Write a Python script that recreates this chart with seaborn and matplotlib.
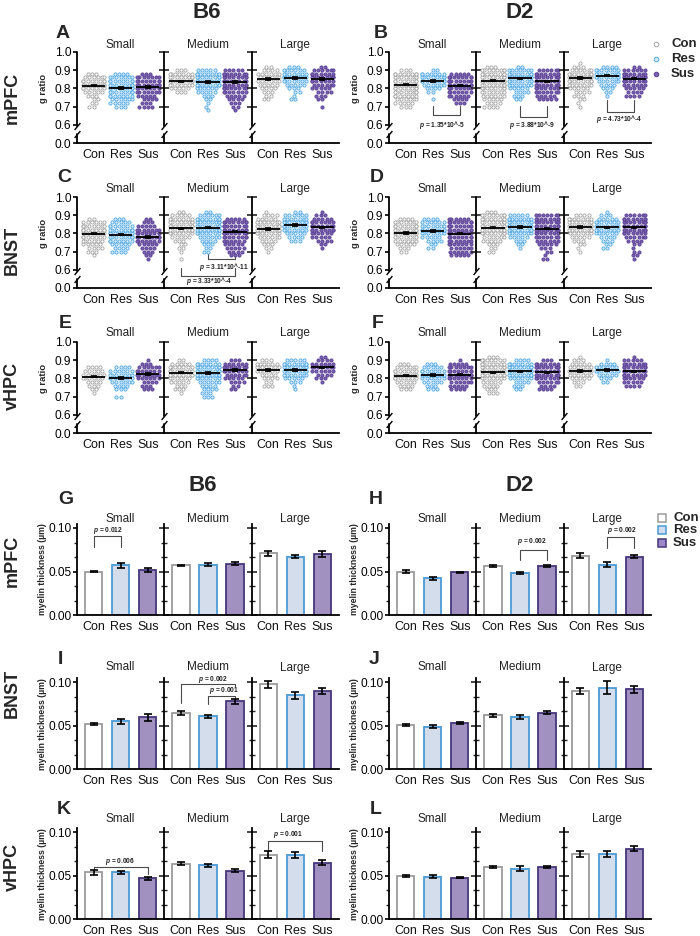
import numpy as np
import seaborn as sns
import matplotlib
matplotlib.use("Agg")
import matplotlib.pyplot as plt  # noqa
from matplotlib.lines import Line2D
from matplotlib.ticker import MultipleLocator
from matplotlib.transforms import blended_transform_factory

GROUPS = ["Con", "Res", "Sus"]
SIZES = ["Small", "Medium", "Large"]
# g ratio bins (0.02 wide), counts per group
BINS = np.round(np.arange(0.66, 0.941, 0.02), 2)

# rows: Small Con/Res/Sus, Medium Con/Res/Sus, Large Con/Res/Sus
b6_mpfc_counts = [
    [0, 0, 2, 2, 2, 3, 5, 7, 8, 8, 6, 3, 0, 0, 0],
    [0, 0, 3, 5, 6, 7, 8, 8, 8, 8, 7, 4, 0, 0, 0],
    [0, 0, 4, 3, 4, 5, 7, 8, 8, 8, 7, 3, 0, 0, 0],
    [0, 0, 0, 0, 0, 0, 3, 5, 7, 8, 8, 7, 3, 0, 0],
    [0, 1, 1, 1, 2, 3, 5, 6, 8, 8, 8, 8, 5, 0, 0],
    [0, 1, 2, 3, 4, 5, 7, 8, 8, 8, 8, 8, 5, 0, 0],
    [0, 0, 0, 0, 2, 2, 3, 4, 5, 6, 6, 6, 4, 2, 0],
    [0, 0, 0, 0, 2, 1, 2, 3, 5, 7, 8, 7, 6, 3, 0],
    [0, 0, 1, 0, 2, 3, 4, 5, 6, 7, 8, 7, 6, 2, 0],
]
d2_mpfc_counts = [
    [0, 0, 3, 5, 6, 7, 8, 8, 8, 8, 8, 8, 3, 0, 0],
    [0, 0, 0, 0, 1, 0, 2, 4, 6, 8, 8, 7, 2, 0, 0],
    [0, 0, 0, 3, 4, 6, 7, 8, 8, 8, 8, 5, 0, 0, 0],
    [0, 0, 4, 4, 5, 6, 7, 8, 8, 8, 8, 8, 8, 3, 0],
    [0, 0, 0, 0, 2, 3, 4, 5, 7, 8, 8, 8, 7, 2, 0],
    [0, 0, 0, 0, 5, 5, 7, 8, 8, 8, 8, 8, 6, 0, 0],
    [0, 0, 1, 1, 2, 3, 4, 5, 7, 8, 8, 8, 6, 3, 1],
    [0, 0, 0, 0, 0, 1, 2, 3, 4, 6, 8, 8, 7, 4, 0],
    [0, 0, 0, 0, 0, 4, 4, 5, 6, 8, 8, 8, 6, 2, 0],
]
b6_bnst_counts = [
    [0, 1, 3, 4, 5, 6, 7, 8, 8, 8, 6, 2, 0, 0, 0],
    [0, 0, 4, 4, 5, 7, 8, 8, 8, 7, 5, 3, 0, 0, 0],
    [1, 2, 3, 4, 5, 7, 8, 8, 7, 5, 3, 2, 0, 0, 0],
    [1, 0, 1, 2, 2, 3, 5, 7, 8, 8, 8, 7, 5, 2, 0],
    [0, 0, 2, 2, 3, 4, 6, 7, 8, 8, 8, 8, 6, 2, 0],
    [0, 3, 4, 5, 5, 6, 8, 8, 8, 8, 8, 5, 0, 0, 0],
    [0, 0, 1, 2, 3, 4, 6, 7, 8, 8, 7, 5, 4, 1, 0],
    [0, 0, 0, 0, 0, 3, 4, 5, 7, 8, 8, 7, 6, 2, 0],
    [0, 0, 0, 1, 2, 4, 5, 6, 8, 8, 7, 5, 3, 1, 0],
]
d2_bnst_counts = [
    [0, 0, 2, 3, 5, 6, 7, 8, 8, 8, 7, 4, 0, 0, 0],
    [0, 0, 0, 2, 2, 4, 5, 7, 8, 7, 6, 4, 0, 0, 0],
    [0, 5, 6, 6, 7, 7, 8, 8, 8, 8, 8, 6, 0, 0, 0],
    [0, 0, 2, 2, 3, 5, 6, 8, 8, 8, 8, 8, 8, 3, 0],
    [0, 0, 0, 1, 2, 3, 5, 7, 8, 8, 8, 8, 5, 0, 0],
    [2, 1, 2, 3, 5, 6, 7, 8, 8, 8, 8, 8, 7, 0, 0],
    [0, 0, 1, 1, 2, 3, 5, 6, 8, 8, 8, 7, 4, 0, 0],
    [0, 0, 0, 2, 2, 3, 4, 6, 7, 7, 7, 5, 3, 1, 0],
    [1, 2, 2, 1, 2, 4, 6, 7, 8, 8, 8, 8, 6, 0, 0],
]
b6_vhpc_counts = [
    [0, 0, 0, 1, 2, 3, 4, 6, 6, 5, 4, 0, 0, 0, 0],
    [0, 0, 2, 0, 3, 4, 6, 7, 7, 6, 4, 0, 0, 0, 0],
    [0, 0, 0, 0, 3, 3, 4, 6, 7, 7, 6, 3, 1, 0, 0],
    [0, 0, 0, 1, 3, 3, 5, 6, 8, 8, 7, 5, 2, 0, 0],
    [0, 0, 3, 3, 4, 4, 6, 7, 8, 8, 8, 7, 4, 0, 0],
    [0, 0, 0, 0, 2, 2, 4, 5, 6, 7, 7, 6, 3, 0, 0],
    [0, 0, 0, 0, 0, 3, 2, 4, 4, 6, 7, 6, 3, 0, 0],
    [0, 0, 0, 0, 1, 1, 3, 5, 7, 8, 8, 8, 5, 0, 0],
    [0, 0, 0, 0, 0, 0, 1, 3, 4, 6, 7, 6, 4, 2, 0],
]
d2_vhpc_counts = [
    [0, 0, 0, 0, 3, 4, 5, 7, 8, 7, 6, 3, 0, 0, 0],
    [0, 0, 0, 0, 3, 3, 5, 6, 7, 7, 5, 3, 0, 0, 0],
    [0, 0, 0, 0, 4, 5, 6, 7, 8, 8, 7, 5, 1, 0, 0],
    [0, 0, 0, 3, 3, 4, 5, 7, 8, 8, 8, 8, 7, 3, 0],
    [0, 0, 0, 0, 2, 3, 4, 6, 8, 8, 8, 7, 4, 0, 0],
    [0, 0, 0, 0, 4, 4, 6, 7, 8, 8, 8, 7, 3, 0, 0],
    [0, 0, 0, 0, 0, 2, 3, 5, 6, 7, 6, 5, 3, 1, 0],
    [0, 0, 0, 0, 0, 0, 2, 3, 5, 7, 6, 4, 1, 0, 0],
    [0, 0, 0, 0, 0, 4, 5, 6, 7, 8, 8, 7, 5, 1, 0],
]

# mean and SEM lines of the g ratio swarms
b6_mpfc_mean = [0.815, 0.803, 0.808, 0.840, 0.834, 0.836, 0.850, 0.858, 0.851]
d2_mpfc_mean = [0.820, 0.840, 0.815, 0.842, 0.855, 0.838, 0.857, 0.870, 0.853]
b6_bnst_mean = [0.798, 0.793, 0.780, 0.828, 0.832, 0.810, 0.823, 0.847, 0.833]
d2_bnst_mean = [0.803, 0.813, 0.798, 0.832, 0.836, 0.826, 0.833, 0.833, 0.833]
b6_vhpc_mean = [0.810, 0.803, 0.825, 0.830, 0.830, 0.845, 0.845, 0.847, 0.860]
d2_vhpc_mean = [0.815, 0.818, 0.820, 0.833, 0.838, 0.833, 0.842, 0.845, 0.838]
g_sem = [0.004, 0.004, 0.004, 0.003, 0.004, 0.004, 0.005, 0.004, 0.004]

# myelin thickness (um), mean and SEM
b6_mpfc_thick = [0.050, 0.057, 0.052, 0.057, 0.058, 0.059, 0.071, 0.067, 0.070]
b6_mpfc_thick_sem = [0.001, 0.003, 0.002, 0.001, 0.0012, 0.0015, 0.003, 0.002, 0.003]
d2_mpfc_thick = [0.050, 0.042, 0.049, 0.056, 0.048, 0.056, 0.068, 0.058, 0.067]
d2_mpfc_thick_sem = [0.0015, 0.0015, 0.001, 0.001, 0.001, 0.001, 0.003, 0.003, 0.002]
b6_bnst_thick = [0.052, 0.055, 0.060, 0.065, 0.061, 0.078, 0.098, 0.085, 0.090]
b6_bnst_thick_sem = [0.0015, 0.003, 0.004, 0.0025, 0.0015, 0.003, 0.004, 0.004, 0.004]
d2_bnst_thick = [0.051, 0.049, 0.053, 0.062, 0.060, 0.065, 0.090, 0.094, 0.092]
d2_bnst_thick_sem = [0.0015, 0.002, 0.0015, 0.0015, 0.0025, 0.002, 0.004, 0.008, 0.004]
b6_vhpc_thick = [0.054, 0.054, 0.047, 0.064, 0.062, 0.056, 0.074, 0.074, 0.065]
b6_vhpc_thick_sem = [0.003, 0.002, 0.002, 0.002, 0.002, 0.002, 0.004, 0.003, 0.003]
d2_vhpc_thick = [0.050, 0.049, 0.048, 0.060, 0.058, 0.060, 0.075, 0.075, 0.081]
d2_vhpc_thick_sem = [0.001, 0.002, 0.001, 0.001, 0.003, 0.001, 0.003, 0.003, 0.003]

DOT_FACE = ["white", "#d9ebf9", "#7a5fb3"]
DOT_EDGE = ["#a3a3a3", "#4fa8e4", "#5a4192"]
BAR_FILL = ["white", "#d0dcf0", "#9d89c9"]
BAR_EDGE = ["#9b9b9b", "#4a9ad6", "#45377a"]

sns.set_style("ticks")
plt.rcParams["font.family"] = ["Liberation Sans", "DejaVu Sans"]
plt.rcParams["mathtext.fontset"] = "custom"
plt.rcParams["mathtext.it"] = "Liberation Sans:italic:bold"
plt.rcParams["mathtext.rm"] = "Liberation Sans:bold"

FIG_W, FIG_H = 700, 936
SUB_W = 262 / 3
fig = plt.figure(figsize=(7, 9.36), dpi=100)


def add_ax(x, top, w, h):
    return fig.add_axes([x / FIG_W, 1 - (top + h) / FIG_H, w / FIG_W, h / FIG_H])


def fwd(y):
    y = np.asarray(y, dtype=float)
    return np.where(y >= 0.6, y, 0.5 + y / 6)


def inv(t):
    t = np.asarray(t, dtype=float)
    return np.where(t >= 0.6, t, (t - 0.5) * 6)


def sig(ax, s):
    k, x1, x2, yb, y1, y2, label, tx, ty = s
    ax.plot([x1, x1, x2, x2], [y1, yb, yb, y2], color="#4a4a4a", lw=0.8, clip_on=False)
    ax.text(tx, ty, r"$p$ = " + label, ha="center", va="center", fontsize=4.8,
            fontweight="bold", color="#222222", clip_on=False)


def x_style(ax):
    ax.set_xlim(-0.61, 2.61)
    ax.set_xticks([0, 1, 2], GROUPS)
    ax.tick_params(axis="x", length=0, pad=4, labelsize=9, colors="#111111")
    ax.set_xlabel("")
    ax.set_ylabel("")
    ax.spines[["top", "right"]].set_visible(False)
    ax.spines["bottom"].set_linewidth(1.3)
    ax.spines["bottom"].set_color("black")


def subtitle(ax, k, title_y):
    ax.text(0.5, title_y / FIG_H, SIZES[k], ha="center", va="center", fontsize=8.5,
            color="#222222", transform=blended_transform_factory(ax.transAxes, fig.transFigure))


def g_ratio_panel(left, top, counts, means, title_y, sigs=()):
    h = 91
    for k in range(3):
        ax = add_ax(left + k * SUB_W, top, SUB_W, h)
        for g, grp in enumerate(GROUPS):
            row = 3 * k + g
            vals = np.repeat(BINS, counts[row])
            sns.swarmplot(x=[grp] * len(vals), y=vals, order=GROUPS, ax=ax, size=2.3,
                          color=DOT_FACE[g], edgecolor=DOT_EDGE[g], linewidth=0.6,
                          warn_thresh=1)
            ax.hlines(means[row], g - 0.43, g + 0.43, color="black", lw=1.3, zorder=5)
            ax.errorbar(g, means[row], yerr=g_sem[row], fmt="none", ecolor="black",
                        elinewidth=1.8, capsize=2.5, capthick=1.2, zorder=6)
        ax.set_yscale("function", functions=(fwd, inv))
        ax.set_ylim(0, 1.0)
        x_style(ax)
        ax.spines["left"].set_visible(False)
        tr = blended_transform_factory(ax.transAxes, ax.transData)
        ax.plot([0, 0], [0.0, 0.31], transform=tr, color="black", lw=1.3, clip_on=False)
        ax.plot([0, 0], [0.55, 1.0], transform=tr, color="black", lw=1.3, clip_on=False)
        ax.plot([0, 0], [0.31, 0.55], transform=tr, ls="none", marker=[(-1, -1.2), (1, 1.2)],
                ms=5, mew=1.0, color="black", clip_on=False)
        if k == 0:
            ax.set_yticks([0.0, 0.6, 0.7, 0.8, 0.9, 1.0],
                          ["0.0", "0.6", "0.7", "0.8", "0.9", "1.0"])
            ax.tick_params(axis="y", direction="out", length=3.2, width=1.2, pad=1,
                           labelsize=8.6, colors="black")
            ax.text(-0.385, 0.6, "g ratio", transform=ax.transAxes, rotation=90,
                    ha="center", va="center", fontsize=6.8, fontweight="bold")
        else:
            ax.set_yticks([0.7, 0.8, 0.9, 1.0], [])
            ax.tick_params(axis="y", direction="inout", length=7, width=1.2)
        ax.minorticks_off()
        subtitle(ax, k, FIG_H - title_y)
        for s in sigs:
            if s[0] == k:
                sig(ax, s)


def thickness_panel(left, zero_y, means, sems, title_y, sigs=()):
    h = 0.105 * 870
    top = zero_y - h
    for k in range(3):
        ax = add_ax(left + k * SUB_W, top, SUB_W, h)
        m = means[3 * k:3 * k + 3]
        e = sems[3 * k:3 * k + 3]
        sns.barplot(x=GROUPS, y=m, hue=GROUPS, palette=BAR_FILL, order=GROUPS,
                    hue_order=GROUPS, width=0.64, legend=False, ax=ax,
                    linewidth=1.3, edgecolor="black")
        for patch, ec in zip(ax.patches, BAR_EDGE):
            patch.set_edgecolor(ec)
        ax.errorbar([0, 1, 2], m, yerr=e, fmt="none", ecolor="black",
                    elinewidth=1.2, capsize=3, capthick=1.2, zorder=5)
        ax.set_ylim(0, 0.105)
        x_style(ax)
        ax.spines["left"].set_linewidth(1.3)
        ax.spines["left"].set_color("black")
        ax.yaxis.set_minor_locator(MultipleLocator(0.05 / 3))
        if k == 0:
            ax.set_yticks([0.0, 0.05, 0.10], ["0.00", "0.05", "0.10"])
            ax.tick_params(axis="y", which="major", direction="out", length=3.2, width=1.2,
                           pad=1, labelsize=8.6, colors="black")
            ax.tick_params(axis="y", which="minor", direction="out", length=2.2, width=1.0)
            ax.text(-0.40, 0.5, "myelin thickness (µm)", transform=ax.transAxes,
                    rotation=90, ha="center", va="center", fontsize=6.3, fontweight="bold")
        else:
            ax.set_yticks([0.0, 0.05, 0.10], [])
            ax.tick_params(axis="y", which="major", direction="inout", length=7, width=1.2)
            ax.tick_params(axis="y", which="minor", direction="inout", length=5, width=1.0)
        subtitle(ax, k, FIG_H - title_y)
        for s in sigs:
            if s[0] == k:
                sig(ax, s)


# bracket layout: (subpanel, x1, x2, y_bar, y_end1, y_end2, label, x_text, y_text)
SIG_B = [(0, 1, 2, 0.655, 0.705, 0.705, "1.35*10^-5", 1.35, 0.60),
         (1, 1, 2, 0.645, 0.705, 0.705, "3.88*10^-9", 1.45, 0.598),
         (2, 1, 2, 0.673, 0.735, 0.735, "4.73*10^-4", 1.45, 0.633)]
SIG_C = [(1, 1, 2, 0.66, 0.695, 0.695, "3.11*10^-11", 1.58, 0.618),
         (1, 0, 2, 0.40, 0.61, 0.61, "3.33*10^-4", 1.06, 0.246)]
SIG_G = [(0, 0, 1, 0.091, 0.0785, 0.0785, "0.012", 0.55, 0.0966)]
SIG_H = [(1, 1, 2, 0.0747, 0.063, 0.063, "0.002", 1.45, 0.085),
         (2, 1, 2, 0.090, 0.077, 0.077, "0.002", 1.54, 0.0966)]
SIG_I = [(1, 0, 2, 0.098, 0.076, 0.095, "0.002", 1.19, 0.1032),
         (1, 1, 2, 0.084, 0.0745, 0.082, "0.001", 1.6, 0.0905)]
SIG_K = [(0, 0, 2, 0.0598, 0.056, 0.052, "0.006", 0.96, 0.066),
         (2, 0, 2, 0.0905, 0.078, 0.078, "0.001", 0.75, 0.097)]

g_ratio_panel(77, 52, b6_mpfc_counts, b6_mpfc_mean, 45)
g_ratio_panel(389, 52, d2_mpfc_counts, d2_mpfc_mean, 45, SIG_B)
g_ratio_panel(77, 197, b6_bnst_counts, b6_bnst_mean, 189, SIG_C)
g_ratio_panel(389, 197, d2_bnst_counts, d2_bnst_mean, 189)
g_ratio_panel(77, 342, b6_vhpc_counts, b6_vhpc_mean, 333)
g_ratio_panel(389, 342, d2_vhpc_counts, d2_vhpc_mean, 333)

thickness_panel(77, 615, b6_mpfc_thick, b6_mpfc_thick_sem, 519, SIG_G)
thickness_panel(389, 615, d2_mpfc_thick, d2_mpfc_thick_sem, 519, SIG_H)
thickness_panel(77, 769.3, b6_bnst_thick, b6_bnst_thick_sem, 667.5, SIG_I)
thickness_panel(389, 769.3, d2_bnst_thick, d2_bnst_thick_sem, 667.5)
thickness_panel(77, 919.3, b6_vhpc_thick, b6_vhpc_thick_sem, 819, SIG_K)
thickness_panel(389, 919.3, d2_vhpc_thick, d2_vhpc_thick_sem, 819)


def ftext(x, y, s, **kw):
    fig.text(x / FIG_W, 1 - y / FIG_H, s, **kw)


for x, y, s in [(207, 12, "B6"), (520, 12, "D2"), (203, 485, "B6"), (520, 485, "D2")]:
    ftext(x, y, s, ha="center", va="center", fontsize=16, fontweight="bold")
for y, s in [(98, "mPFC"), (250, "BNST"), (386, "vHPC"),
             (561, "mPFC"), (693, "BNST"), (867, "vHPC")]:
    ftext(12, y, s, ha="center", va="center", rotation=90, fontsize=13, fontweight="bold")
for x, y, s in [(63, 33, "A"), (381, 33, "B"), (64, 178, "C"), (377, 178, "D"),
                (65, 324, "E"), (378, 324, "F"), (66, 499, "G"), (376, 500, "H"),
                (60, 660, "I"), (374, 659, "J"), (64, 809, "K"), (376, 810, "L")]:
    ftext(x, y, s, ha="center", va="center", fontsize=14, fontweight="bold")

# legends
for g, y in enumerate([44, 59.3, 74]):
    fig.add_artist(Line2D([656 / FIG_W], [1 - y / FIG_H], transform=fig.transFigure,
                          marker="o", ms=3.3, mfc=DOT_FACE[g], mec=DOT_EDGE[g], mew=0.7,
                          ls="none"))
    ftext(671, y, GROUPS[g], ha="left", va="center", fontsize=9.5, fontweight="bold")
for g, y in enumerate([517.7, 530.3, 542.7]):
    fig.add_artist(Line2D([661.5 / FIG_W], [1 - y / FIG_H], transform=fig.transFigure,
                          marker="s", ms=6.3, mfc=BAR_FILL[g], mec=BAR_EDGE[g], mew=1.1,
                          ls="none"))
    ftext(673, y, GROUPS[g], ha="left", va="center", fontsize=9.5, fontweight="bold")

fig.savefig("out.png", dpi=100)
